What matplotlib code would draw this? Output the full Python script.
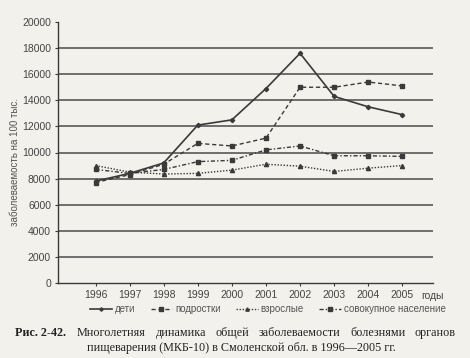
import matplotlib.pyplot as plt
import numpy as np

# Заболеваемость болезнями органов пищеварения, Смоленская обл.
years = ["1996", "1997", "1998", "1999", "2000", "2001", "2002", "2003", "2004", "2005"]
deti = [7800, 8400, 9200, 12100, 12500, 14900, 17600, 14300, 13500, 12900]
podrostki = [7700, 8300, 9100, 10700, 10500, 11100, 15000, 15000, 15400, 15100]
vzroslye = [9000, 8500, 8350, 8400, 8650, 9100, 8950, 8550, 8800, 9000]
sovokupnoe = [8700, 8400, 8700, 9300, 9400, 10200, 10500, 9750, 9750, 9700]
y_ticks = list(range(0, 20001, 2000))

caption_1 = "Многолетняя динамика общей заболеваемости болезнями органов"
caption_2 = "пищеварения (МКБ-10) в Смоленской обл. в 1996—2005 гг."

paper = "#f3f1ec"
ink = "#3a3a3a"
label_col = "#444444"
sans = "Liberation Sans"
serif = "Liberation Serif"


def justified_line(fig, words, x0, x1, y, **kw):
    # place words one by one so the line fills x0..x1 (pixels), like book text
    r = fig.canvas.get_renderer()
    texts = [fig.text(0, y, w, **kw) for w in words]
    widths = [t.get_window_extent(r).width for t in texts]
    gap = (x1 - x0 - sum(widths)) / (len(words) - 1)
    pos = x0
    for t, w in zip(texts, widths):
        t.set_x(pos / fig.bbox.width)
        pos += w + gap


def main():
    fig = plt.figure(figsize=(4.70, 3.58), dpi=100, facecolor=paper)
    ax = fig.add_axes([58 / 470, 1 - 283 / 358, (433 - 58) / 470, (283 - 22) / 358])
    ax.set_facecolor(paper)

    x = np.arange(len(years))
    ax.plot(x, deti, color=ink, lw=1.2, marker="D", ms=2.2, label="дети")
    ax.plot(x, podrostki, color=ink, lw=1.0, ls=(0, (3, 2)), marker="s", ms=3,
            label="подростки")
    ax.plot(x, vzroslye, color=ink, lw=1.0, ls=(0, (1, 1.2)), marker="^", ms=3,
            label="взрослые")
    ax.plot(x, sovokupnoe, color=ink, lw=1.0, ls=(0, (3, 1.5, 1, 1.5)), marker="s", ms=3,
            label="совокупное население")

    # horizontal grid (no line at the top value)
    for v in y_ticks[1:-1]:
        ax.axhline(v, color="#4a4a4a", lw=1.1, zorder=0)

    ax.set_ylim(0, 20000)
    ax.set_xlim(-1.1, 9.9)
    ax.set_yticks(y_ticks)
    ax.set_yticklabels([str(v) for v in y_ticks], fontsize=7.5, family=sans, color=label_col)
    ax.set_xticks(x)
    ax.set_xticklabels(years, fontsize=7.5, family=sans, color=label_col)
    ax.tick_params(axis="both", length=2.5, width=0.8, color=ink, pad=2.5)
    for side in ["top", "right"]:
        ax.spines[side].set_visible(False)
    for side in ["left", "bottom"]:
        ax.spines[side].set_color(ink)
        ax.spines[side].set_linewidth(1.0)

    ax.text(1.0, -0.03, "годы", transform=ax.transAxes, ha="center", va="top",
            fontsize=7.5, family=sans, color=label_col)
    ax.set_ylabel("заболеваемость на 100 тыс.", fontsize=7, family=sans, color="#555555")
    ax.yaxis.set_label_coords(-0.1, 0.465)

    ax.legend(loc="center", bbox_to_anchor=(0.56, -0.1), ncol=4, frameon=False,
              prop={"family": sans, "size": 7}, handlelength=2.2,
              handletextpad=0.3, columnspacing=1.6, markerscale=0.8,
              labelcolor="#555555")

    # caption
    cap = dict(fontsize=8.7, family=serif, va="center", color="#222222")
    fig.text(15 / 470, 1 - 333 / 358, "Рис. 2-42.", weight="bold", **cap)
    justified_line(fig, caption_1.split(), 77, 456, 1 - 333 / 358, **cap)
    fig.text(87 / 470, 1 - 348 / 358, caption_2, **cap)

    fig.savefig("out.png", dpi=100, facecolor=paper)


if __name__ == "__main__":
    main()
